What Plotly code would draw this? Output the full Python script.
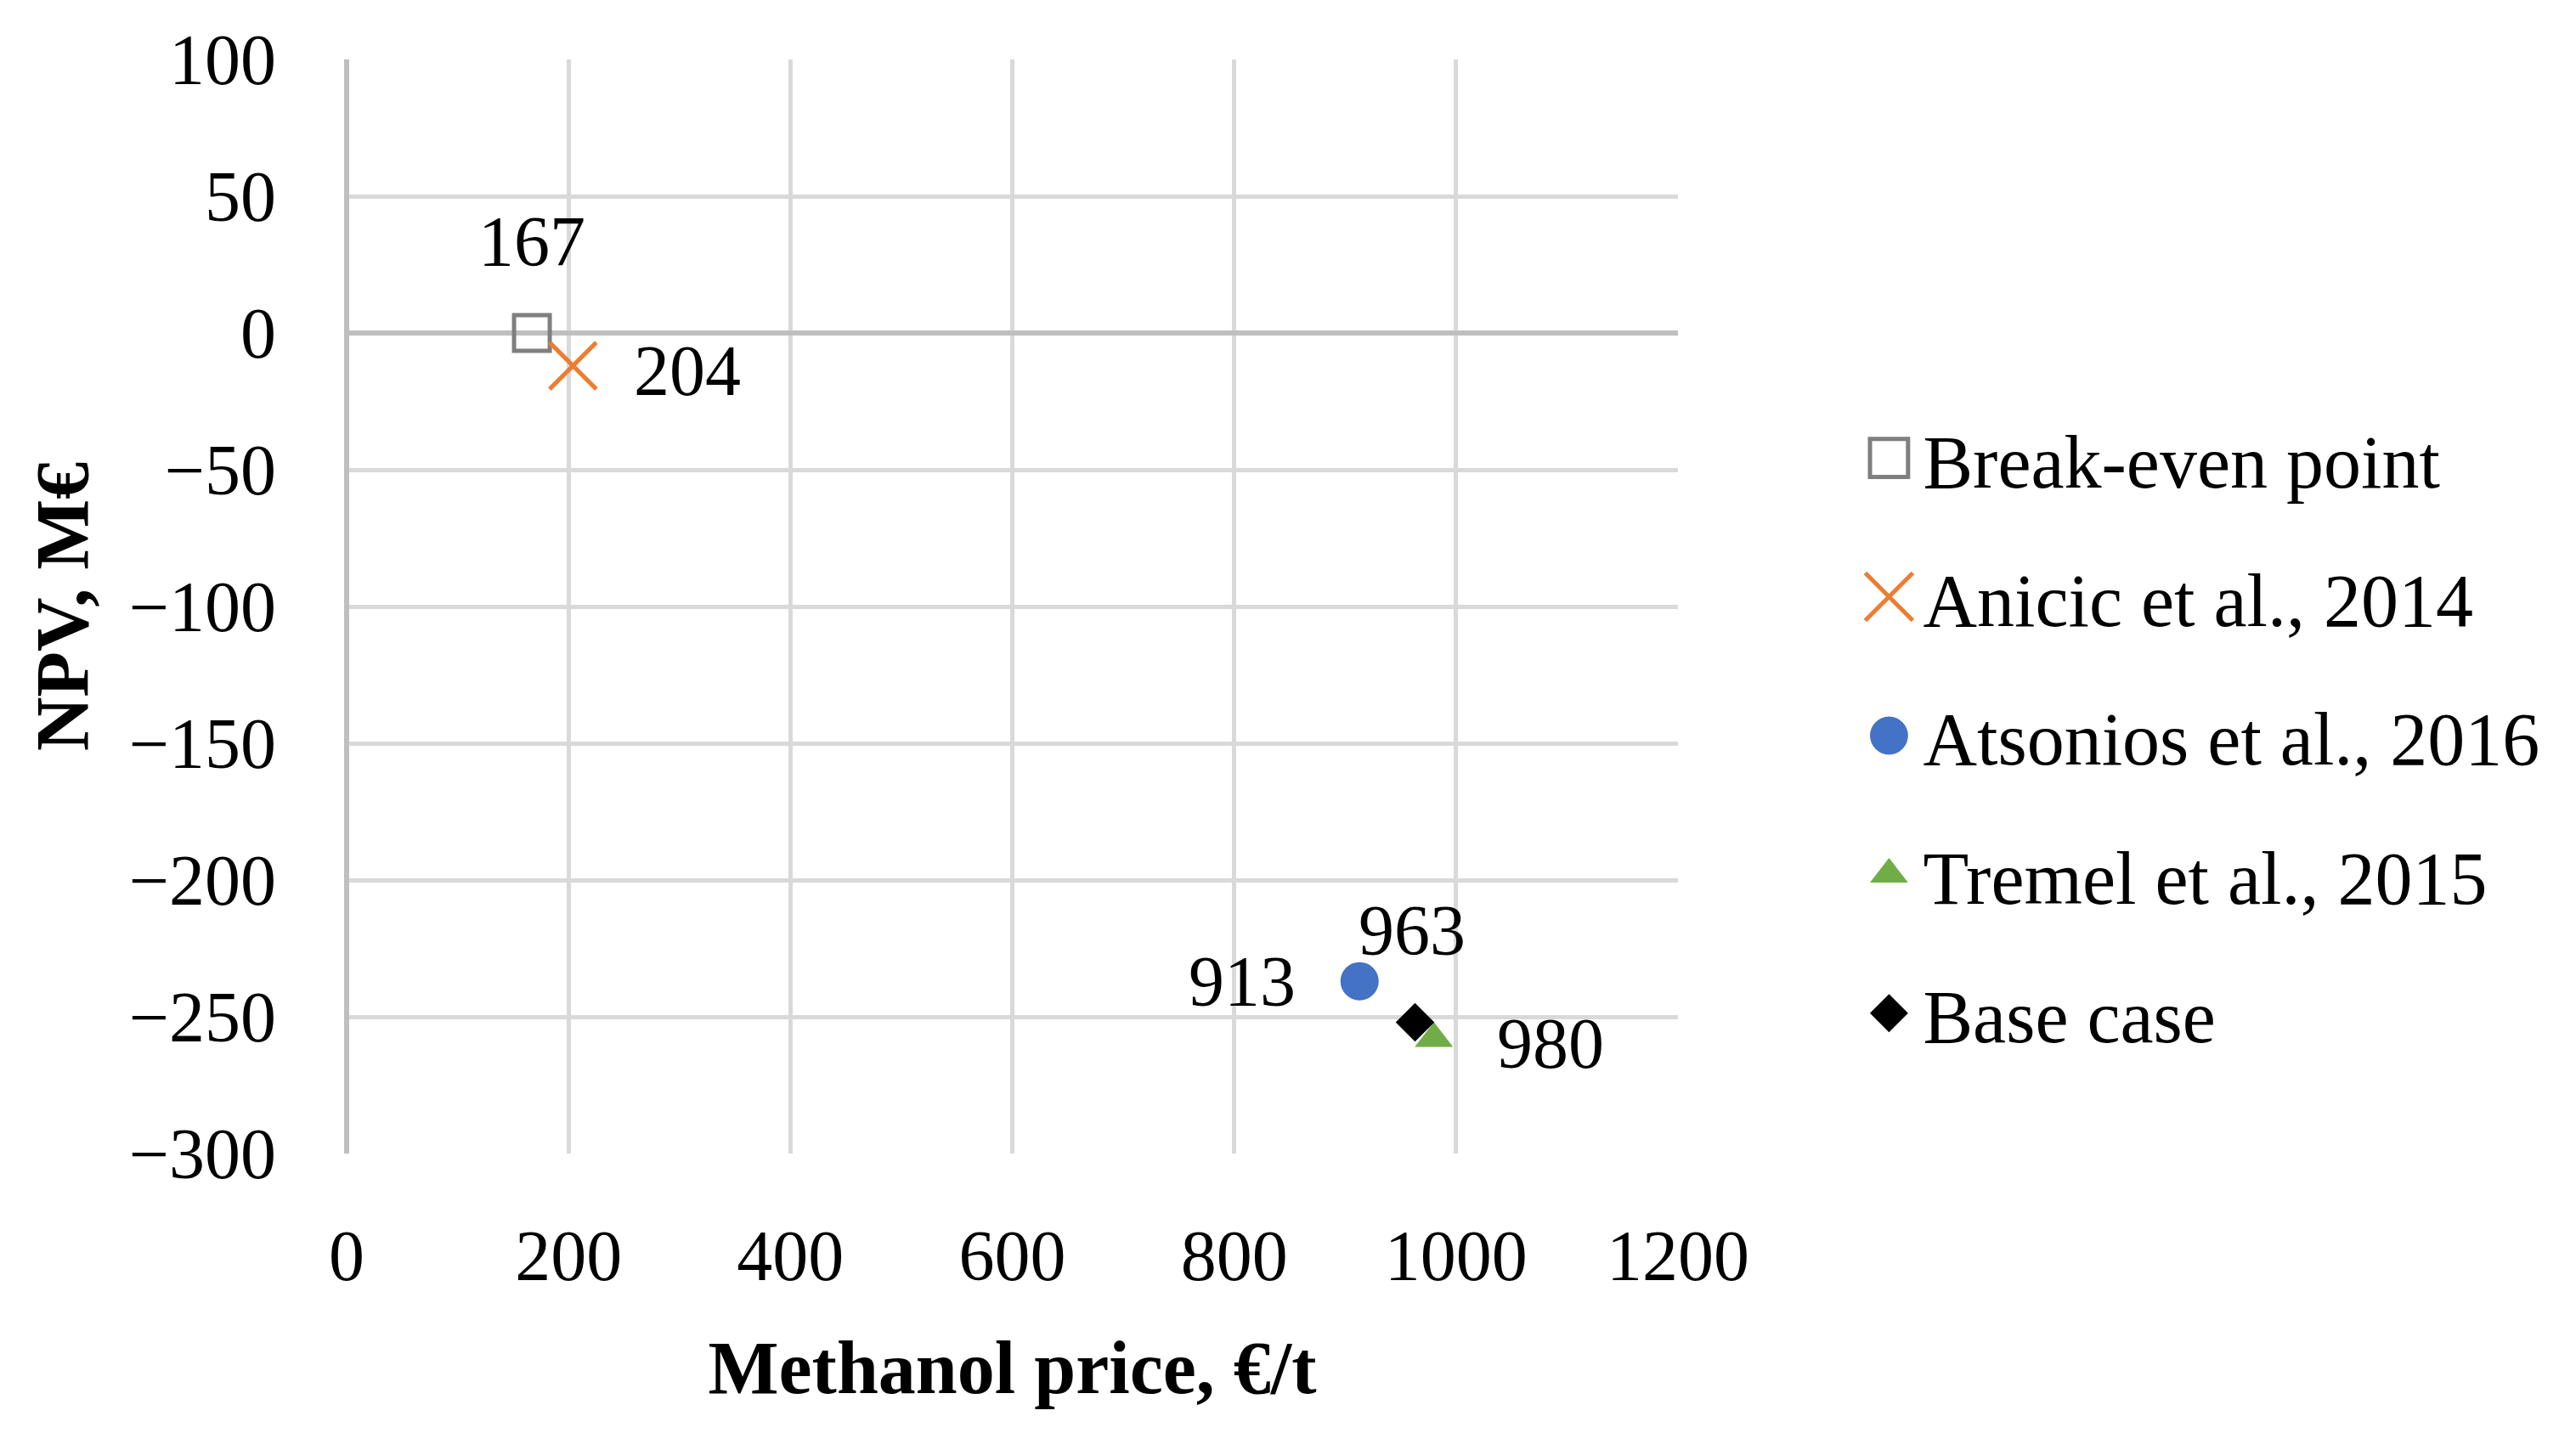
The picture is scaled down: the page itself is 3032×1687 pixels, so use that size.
import plotly.graph_objects as go

# Data
series_names = ["Break-even point", "Anicic et al., 2014", "Atsonios et al., 2016",
                "Tremel et al., 2015", "Base case"]
price_x = [167, 204, 913, 980, 963]
npv_y = [0, -12, -237, -258, -252]
x_ticks = [0, 200, 400, 600, 800, 1000, 1200]
y_ticks = [100, 50, 0, -50, -100, -150, -200, -250, -300]

FONT = "Liberation Serif"
FS = 84
FS_BIG = 88

styles = [
    dict(symbol="square-open", size=42, color="#7F7F7F", line=dict(color="#7F7F7F", width=5)),
    dict(symbol="x-thin-open", size=55, color="#ED7D31", line=dict(color="#ED7D31", width=5)),
    dict(symbol="circle", size=45, color="#4472C4", line=dict(width=0)),
    dict(symbol="triangle-up", size=39, color="#70AD47", line=dict(width=0)),
    dict(symbol="diamond", size=35, color="#000000", line=dict(width=0)),
]

fig = go.Figure()
for i, name in enumerate(series_names):
    fig.add_trace(go.Scatter(
        x=[price_x[i]], y=[npv_y[i]], mode="markers", name=name,
        marker=styles[i], legendgroup=name, showlegend=True,
    ))

# data label offsets (px): xshift, yshift, xanchor
label_pos = [(0, 108, "center"), (70, -6, "left"), (-73, 0, "right"),
             (72, -6, "left"), (-4, 108, "center")]
for i in range(len(series_names)):
    dx, dy, xa = label_pos[i]
    fig.add_annotation(x=price_x[i], y=npv_y[i], text=str(price_x[i]), showarrow=False,
                       xshift=dx, yshift=dy, xanchor=xa, yanchor="middle",
                       font=dict(family=FONT, size=FS, color="black"))

fig.update_layout(
    width=3032, height=1687,
    margin=dict(l=400, r=1065, t=62, b=337, autoexpand=False),
    plot_bgcolor="white", paper_bgcolor="white",
    font=dict(family=FONT, size=FS, color="black"),
    showlegend=True,
    legend=dict(x=1.133, y=0.382, xanchor="left", yanchor="middle",
                font=dict(family=FONT, size=FS_BIG, color="black"),
                tracegroupgap=46, itemsizing="trace", itemwidth=70,
                bgcolor="rgba(0,0,0,0)"),
)
fig.update_xaxes(
    range=[0, 1200], tickvals=x_ticks, ticktext=[str(v) for v in x_ticks],
    showgrid=True, gridcolor="#D9D9D9", gridwidth=5,
    zeroline=True, zerolinecolor="#BFBFBF", zerolinewidth=6,
    showline=False, ticks="", ticklabelstandoff=64,
    tickfont=dict(family=FONT, size=FS),
    title=dict(text="<b>Methanol price, €/t</b>", font=dict(family=FONT, size=FS_BIG), standoff=54),
)
fig.update_yaxes(
    range=[-300, 100], tickvals=y_ticks, ticktext=[str(v).replace("-", "\u2212") for v in y_ticks],
    showgrid=True, gridcolor="#D9D9D9", gridwidth=5,
    zeroline=True, zerolinecolor="#BFBFBF", zerolinewidth=6,
    showline=False, ticks="", ticklabelstandoff=82,
    tickfont=dict(family=FONT, size=FS),
    title=dict(text="<b>NPV, M€</b>", font=dict(family=FONT, size=FS_BIG), standoff=18),
)

# enlarge legend symbols to match the marker sizes used in the plot
post_js = """
var gd = document.getElementById('{plot_id}');
function growLegend(){
  var scales = [2.8, 3.5, 2.8, 2.43, 2.16];
  gd.querySelectorAll('.legend .traces').forEach(function(t, i){
    t.querySelectorAll('.legendpoints path').forEach(function(p){
      var tr = p.getAttribute('data-basetr');
      if (tr === null) { tr = p.getAttribute('transform') || ''; p.setAttribute('data-basetr', tr); }
      p.setAttribute('transform', tr + ' scale(' + scales[i % scales.length] + ')');
      p.style.vectorEffect = 'non-scaling-stroke';
    });
  });
}
growLegend();
gd.on('plotly_afterplot', growLegend);
"""

fig.write_html("out.html", post_script=post_js)
